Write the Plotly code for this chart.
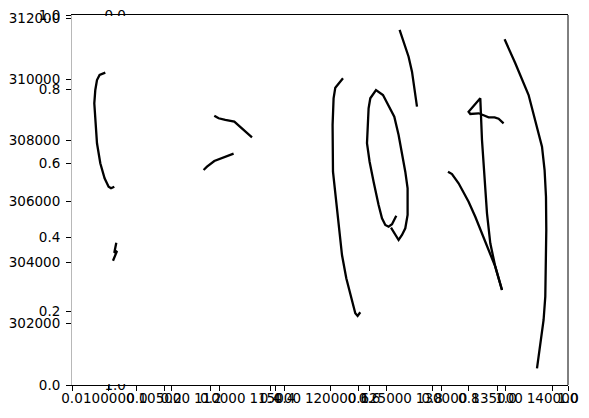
import plotly.graph_objects as go

# traced strokes (data coords)
s1_x = [99685, 99171, 98936, 98783, 98693, 98783, 98936, 99234, 99621, 99982, 100198, 100496]
s1_y = [310217, 310141, 309977, 309649, 309213, 308557, 307902, 307246, 306754, 306479, 306426, 306479]

s2_x = [100676, 100496, 100739, 100379]
s2_y = [304643, 304315, 304370, 304052]

s3_x = [109510, 109897, 110501, 111313, 112908]
s3_y = [308807, 308721, 308666, 308610, 308098]

s4_x = [108545, 108852, 109510, 110348, 111249]
s4_y = [307026, 307134, 307321, 307443, 307561]

s5_x = [121111, 120417, 120263, 120173, 120209, 120417, 120714, 121021, 121408, 121922, 122220, 122427, 122670]
s5_y = [310033, 309725, 309377, 308502, 306970, 306207, 305223, 304239, 303475, 302708, 302328, 302239, 302361]

s6_x = [125915, 125528, 125221, 124924, 124626, 124320, 123869, 123509, 123274, 123328, 123419, 123572,
        124086, 124716, 125221, 125735, 126123, 126429, 126726, 126934, 126934, 126726, 126429, 126123, 125438]
s6_y = [305528, 305246, 305167, 305223, 305443, 305879, 306643, 307298, 307902, 308502, 309049, 309377,
        309649, 309485, 309157, 308774, 308174, 307626, 306970, 306426, 305551, 305115, 304895, 304731, 305134]

s7_x = [126213, 126573, 127024, 127331, 127565, 127781]
s7_y = [311617, 311233, 310741, 310249, 309705, 309102]

s8_x = [130575, 130936, 131531, 132432, 133036, 133640, 134235, 134839, 135443]
s8_y = [306970, 306895, 306590, 305987, 305495, 304951, 304403, 303856, 303092]

s9_x = [135587, 135137, 134776, 134235, 133731, 133334, 132586, 132432, 133487, 133640, 134091, 134389, 134839, 135443]
s9_y = [308557, 308708, 308754, 308754, 308830, 308885, 308862, 308938, 309377, 308010, 305607, 304623, 303856, 303092]

s10_x = [135677, 136642, 137841, 138445, 139049, 139283, 139409, 139436, 139409, 139346, 139193, 138895, 138598]
s10_y = [311311, 310525, 309485, 308666, 307790, 307026, 306151, 305059, 303967, 302872, 302108, 301344, 300525]

strokes = [(s1_x, s1_y), (s2_x, s2_y), (s3_x, s3_y), (s4_x, s4_y), (s5_x, s5_y),
           (s6_x, s6_y), (s7_x, s7_y), (s8_x, s8_y), (s9_x, s9_y), (s10_x, s10_y)]

x_ticks = [100000, 105000, 110000, 115000, 120000, 125000, 130000, 135000, 140000]
y_ticks = [302000, 304000, 306000, 308000, 310000, 312000]
unit_ticks = [0.0, 0.2, 0.4, 0.6, 0.8, 1.0]
unit_labels = ["0.0", "0.2", "0.4", "0.6", "0.8", "1.0"]
edge_ticks = [0.0, 1.0]
edge_labels = ["0.0", "1.0"]

fig = go.Figure()
for sx, sy in strokes:
    fig.add_trace(go.Scatter(x=sx, y=sy, mode="lines",
                             line=dict(color="black", width=2.3), hoverinfo="skip"))

# empty traces so the extra axes get drawn
fig.add_trace(go.Scatter(x=[], y=[], xaxis="x2", yaxis="y2"))
fig.add_trace(go.Scatter(x=[], y=[], xaxis="x3", yaxis="y3"))

tick_font = dict(family="DejaVu Sans", size=13.5, color="black")
common = dict(showgrid=False, zeroline=False, ticks="outside", ticklen=5,
              tickcolor="black", tickwidth=1, tickfont=tick_font)

fig.update_layout(
    width=589, height=418,
    margin=dict(l=72, r=21, t=15, b=33),
    template="none",
    showlegend=False,
    paper_bgcolor="white", plot_bgcolor="rgba(0,0,0,0)",
    font=tick_font,
    xaxis=dict(range=[96683, 141393], tickvals=x_ticks, ticktext=[str(v) for v in x_ticks],
               showline=True, linecolor="black", linewidth=1, mirror=True,
               ticklabelstandoff=-4, **common),
    yaxis=dict(range=[299977, 312108], tickvals=y_ticks, ticktext=[str(v) for v in y_ticks],
               showline=True, linecolor="#b8b8b8", linewidth=1,
               ticklabelstandoff=3, **common),
    xaxis2=dict(overlaying="x", anchor="y", side="bottom", range=[0, 1],
                tickvals=unit_ticks, ticktext=unit_labels, showline=False,
                ticklabelstandoff=-4, **common),
    yaxis2=dict(overlaying="y", anchor="x", side="left", range=[0, 1],
                tickvals=unit_ticks, ticktext=unit_labels, showline=False,
                ticklabelstandoff=3, **common),
    xaxis3=dict(domain=[0.131, 0.875], anchor="y3", side="bottom", range=[0, 1],
                tickvals=unit_ticks, ticktext=unit_labels, showline=False,
                ticklabelstandoff=-4, **common),
    yaxis3=dict(domain=[0, 1], anchor="x3", side="left", range=[1, 0],
                tickvals=edge_ticks, ticktext=edge_labels, showline=False,
                showgrid=False, zeroline=False, ticks="", tickfont=tick_font,
                ticklabelstandoff=10),
)

# right spine
fig.add_shape(type="line", xref="paper", yref="paper", x0=1, x1=1, y0=0, y1=1,
              line=dict(color="black", width=1), layer="above")
# white patches hiding the inner halves of the inverted axis labels
fig.add_shape(type="rect", xref="paper", yref="paper", x0=0.05, x1=0.115, y0=0.0025, y1=0.032,
              fillcolor="white", line=dict(width=0), layer="above")
fig.add_shape(type="rect", xref="paper", yref="paper", x0=0.05, x1=0.115, y0=0.968, y1=0.9975,
              fillcolor="white", line=dict(width=0), layer="above")

fig.write_html("out.html", config={"displayModeBar": False},
               post_script="document.body.style.margin='0';")
